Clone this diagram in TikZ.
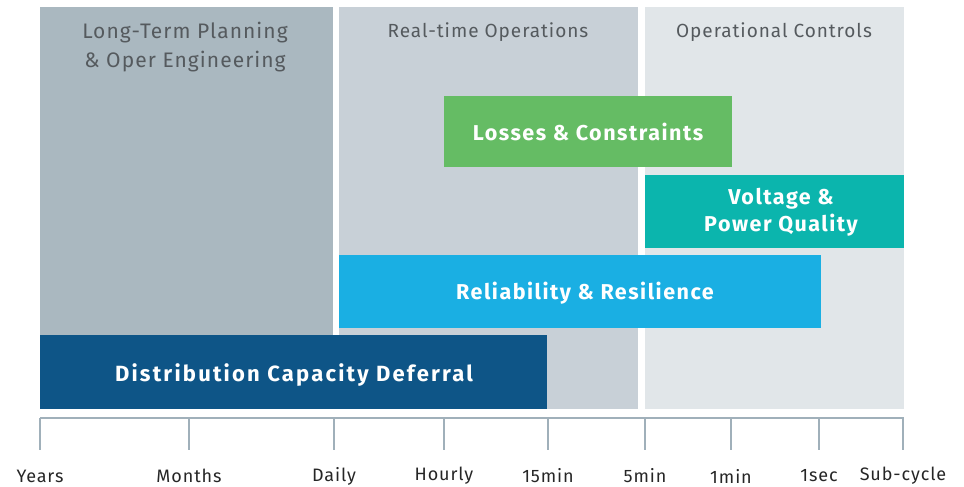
\documentclass[tikz,border=0pt]{standalone}
\usepackage{fontspec}
\setmainfont{Fira Sans}
\newfontfamily\barfont[LetterSpace=7]{Fira Sans}
\newfontfamily\widebarfont[LetterSpace=10]{Fira Sans}
\newfontfamily\hdrfont[LetterSpace=5]{Fira Sans}
\definecolor{colA}{HTML}{AAB8C0}
\definecolor{colB}{HTML}{C8D0D7}
\definecolor{colC}{HTML}{E1E6E9}
\definecolor{cgreen}{HTML}{65BC64}
\definecolor{cteal}{HTML}{0BB5AD}
\definecolor{ccyan}{HTML}{1AAFE3}
\definecolor{cdark}{HTML}{0E5587}
\definecolor{caxis}{HTML}{A0B0BA}
\definecolor{ctext}{HTML}{555A5E}
\tikzset{
  x=1pt,y=-1pt,
  hdr/.style={font=\hdrfont\fontsize{19}{29}\selectfont, text=ctext, align=center},
  bighdr/.style={font=\hdrfont\fontsize{21}{29}\selectfont, text=ctext, align=center},
  bartxt/.style={font=\barfont\bfseries\fontsize{21.5}{27}\selectfont, text=white, align=center},
  widebartxt/.style={font=\widebarfont\bfseries\fontsize{22}{27}\selectfont, text=white, align=center},
  tick/.style={draw=caxis, line width=1.2pt},
  ticklbl/.style={font=\hdrfont\fontsize{18}{20}\selectfont, text=black!85},
}
\begin{document}
\begin{tikzpicture}
\useasboundingbox (0,0) rectangle (964,487);
% columns
\fill[colA] (40,7) rectangle (333,409);
\fill[colB] (339,7) rectangle (638,409);
\fill[colC] (645,7) rectangle (904,409);
\node[bighdr] (h1) at (185,47) {Long-Term Planning\\\& Oper Engineering};
\node[hdr] (h2) at (488,32) {Real-time Operations};
\node[hdr] (h3) at (774,32) {Operational Controls};
% bars
\fill[cgreen] (444,96) rectangle (732,167);
\node[bartxt] (b1) at (588,132) {Losses \& Constraints};
\fill[cteal] (645,175) rectangle (904,248);
\node[bartxt] (b2) at (781,212) {Voltage \&\\Power Quality};
\fill[ccyan] (339,255) rectangle (821,328);
\node[bartxt] (b3) at (585,293) {Reliability \& Resilience};
\fill[cdark] (40,335) rectangle (547,409);
\node[widebartxt] (b4) at (294,375) {Distribution Capacity Deferral};
% axis
\draw[tick] (40,418) -- (904,418);
\foreach \xx/\lbl [count=\i] in {40/Years,189/Months,334/Daily,444/Hourly,548/15min,645/5min,731/1min,819/1sec,903/Sub-cycle}{
  \draw[tick] (\xx,418) -- (\xx,450);
  \node[ticklbl] (t\i) at (\xx,476) {\lbl};
}
\end{tikzpicture}
\end{document}
